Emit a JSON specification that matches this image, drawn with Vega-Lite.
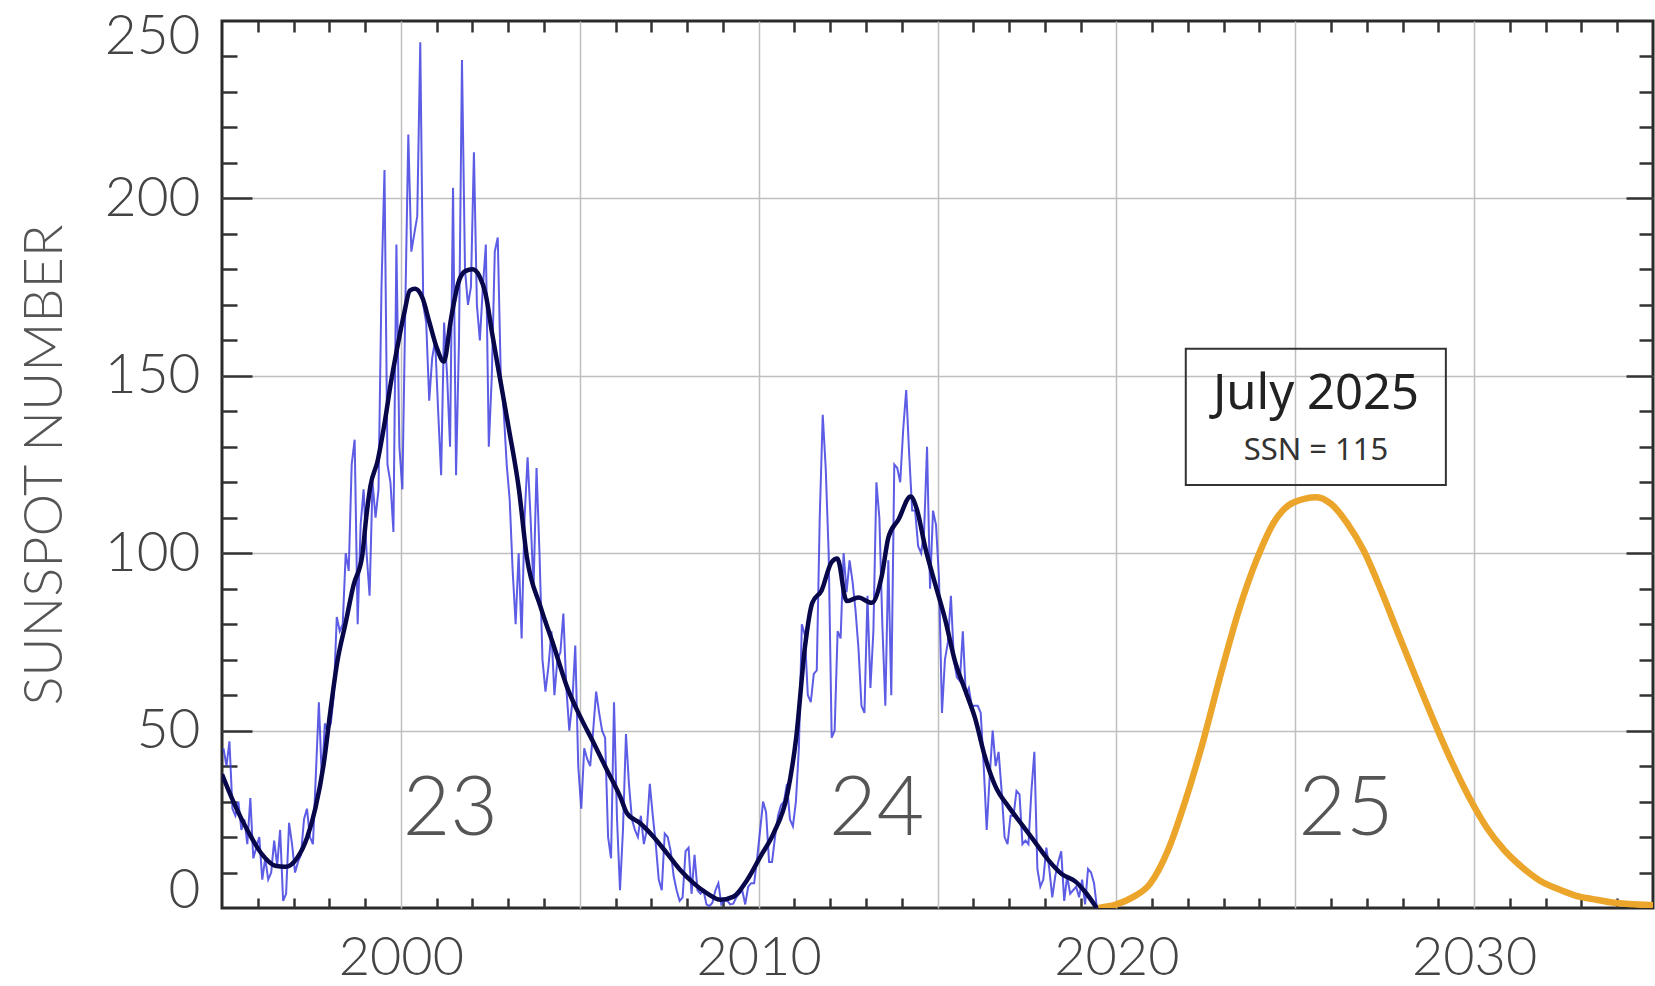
{
  "$schema": "https://vega.github.io/schema/vega-lite/v6.json",
  "width": 1431,
  "height": 887,
  "autosize": {"type": "none"},
  "padding": {"left": 222, "top": 21, "right": 2, "bottom": 78},
  "background": "white",
  "config": {
    "view": {"stroke": "#2a2a2a", "strokeWidth": 3},
    "axis": {"tickColor": "#333333", "tickWidth": 2.5, "domain": false, "titleColor": "#555555", "labelColor": "#444444"}
  },
  "datasets": {
    "monthly": [
      {"t":1995.042,"ssn":45},{"t":1995.125,"ssn":40},{"t":1995.208,"ssn":47},{"t":1995.292,"ssn":28},{"t":1995.375,"ssn":26},{"t":1995.458,"ssn":30},{"t":1995.542,"ssn":22},{"t":1995.625,"ssn":25},{"t":1995.708,"ssn":18},{"t":1995.792,"ssn":31},{"t":1995.875,"ssn":14},{"t":1995.958,"ssn":17},
      {"t":1996.042,"ssn":20},{"t":1996.125,"ssn":8},{"t":1996.208,"ssn":14},{"t":1996.292,"ssn":8},{"t":1996.375,"ssn":10},{"t":1996.458,"ssn":19},{"t":1996.542,"ssn":12},{"t":1996.625,"ssn":22},{"t":1996.708,"ssn":2},{"t":1996.792,"ssn":4},{"t":1996.875,"ssn":24},{"t":1996.958,"ssn":18},
      {"t":1997.042,"ssn":10},{"t":1997.125,"ssn":13},{"t":1997.208,"ssn":15},{"t":1997.292,"ssn":25},{"t":1997.375,"ssn":28},{"t":1997.458,"ssn":20},{"t":1997.542,"ssn":18},{"t":1997.625,"ssn":38},{"t":1997.708,"ssn":58},{"t":1997.792,"ssn":36},{"t":1997.875,"ssn":52},{"t":1997.958,"ssn":50},
      {"t":1998.042,"ssn":52},{"t":1998.125,"ssn":60},{"t":1998.208,"ssn":82},{"t":1998.292,"ssn":78},{"t":1998.375,"ssn":80},{"t":1998.458,"ssn":100},{"t":1998.542,"ssn":95},{"t":1998.625,"ssn":125},{"t":1998.708,"ssn":132},{"t":1998.792,"ssn":80},{"t":1998.875,"ssn":108},{"t":1998.958,"ssn":118},
      {"t":1999.042,"ssn":100},{"t":1999.125,"ssn":88},{"t":1999.208,"ssn":120},{"t":1999.292,"ssn":110},{"t":1999.375,"ssn":118},{"t":1999.458,"ssn":175},{"t":1999.542,"ssn":208},{"t":1999.625,"ssn":125},{"t":1999.708,"ssn":120},{"t":1999.792,"ssn":106},{"t":1999.875,"ssn":187},{"t":1999.958,"ssn":130},
      {"t":2000.042,"ssn":118},{"t":2000.125,"ssn":170},{"t":2000.208,"ssn":218},{"t":2000.292,"ssn":185},{"t":2000.375,"ssn":190},{"t":2000.458,"ssn":195},{"t":2000.542,"ssn":244},{"t":2000.625,"ssn":170},{"t":2000.708,"ssn":165},{"t":2000.792,"ssn":143},{"t":2000.875,"ssn":155},{"t":2000.958,"ssn":160},
      {"t":2001.042,"ssn":140},{"t":2001.125,"ssn":122},{"t":2001.208,"ssn":165},{"t":2001.292,"ssn":150},{"t":2001.375,"ssn":130},{"t":2001.458,"ssn":203},{"t":2001.542,"ssn":122},{"t":2001.625,"ssn":160},{"t":2001.708,"ssn":239},{"t":2001.792,"ssn":180},{"t":2001.875,"ssn":170},{"t":2001.958,"ssn":175},
      {"t":2002.042,"ssn":213},{"t":2002.125,"ssn":170},{"t":2002.208,"ssn":160},{"t":2002.292,"ssn":175},{"t":2002.375,"ssn":187},{"t":2002.458,"ssn":130},{"t":2002.542,"ssn":150},{"t":2002.625,"ssn":185},{"t":2002.708,"ssn":189},{"t":2002.792,"ssn":150},{"t":2002.875,"ssn":140},{"t":2002.958,"ssn":125},
      {"t":2003.042,"ssn":115},{"t":2003.125,"ssn":95},{"t":2003.208,"ssn":80},{"t":2003.292,"ssn":100},{"t":2003.375,"ssn":76},{"t":2003.458,"ssn":110},{"t":2003.542,"ssn":127},{"t":2003.625,"ssn":110},{"t":2003.708,"ssn":90},{"t":2003.792,"ssn":124},{"t":2003.875,"ssn":100},{"t":2003.958,"ssn":70},
      {"t":2004.042,"ssn":61},{"t":2004.125,"ssn":68},{"t":2004.208,"ssn":78},{"t":2004.292,"ssn":60},{"t":2004.375,"ssn":70},{"t":2004.458,"ssn":72},{"t":2004.542,"ssn":83},{"t":2004.625,"ssn":62},{"t":2004.708,"ssn":50},{"t":2004.792,"ssn":58},{"t":2004.875,"ssn":74},{"t":2004.958,"ssn":40},
      {"t":2005.042,"ssn":28},{"t":2005.125,"ssn":45},{"t":2005.208,"ssn":42},{"t":2005.292,"ssn":40},{"t":2005.375,"ssn":50},{"t":2005.458,"ssn":61},{"t":2005.542,"ssn":55},{"t":2005.625,"ssn":50},{"t":2005.708,"ssn":48},{"t":2005.792,"ssn":20},{"t":2005.875,"ssn":14},{"t":2005.958,"ssn":58},
      {"t":2006.042,"ssn":25},{"t":2006.125,"ssn":5},{"t":2006.208,"ssn":22},{"t":2006.292,"ssn":49},{"t":2006.375,"ssn":35},{"t":2006.458,"ssn":25},{"t":2006.542,"ssn":22},{"t":2006.625,"ssn":20},{"t":2006.708,"ssn":26},{"t":2006.792,"ssn":18},{"t":2006.875,"ssn":22},{"t":2006.958,"ssn":35},
      {"t":2007.042,"ssn":26},{"t":2007.125,"ssn":18},{"t":2007.208,"ssn":8},{"t":2007.292,"ssn":5},{"t":2007.375,"ssn":21},{"t":2007.458,"ssn":20},{"t":2007.542,"ssn":16},{"t":2007.625,"ssn":9},{"t":2007.708,"ssn":5},{"t":2007.792,"ssn":2},{"t":2007.875,"ssn":3},{"t":2007.958,"ssn":16},
      {"t":2008.042,"ssn":17},{"t":2008.125,"ssn":4},{"t":2008.208,"ssn":15},{"t":2008.292,"ssn":5},{"t":2008.375,"ssn":4},{"t":2008.458,"ssn":5},{"t":2008.542,"ssn":1},{"t":2008.625,"ssn":0.5},{"t":2008.708,"ssn":1.5},{"t":2008.792,"ssn":5},{"t":2008.875,"ssn":7},{"t":2008.958,"ssn":1},
      {"t":2009.042,"ssn":2},{"t":2009.125,"ssn":2},{"t":2009.208,"ssn":1},{"t":2009.292,"ssn":1.2},{"t":2009.375,"ssn":3},{"t":2009.458,"ssn":4},{"t":2009.542,"ssn":5},{"t":2009.625,"ssn":1},{"t":2009.708,"ssn":6},{"t":2009.792,"ssn":7},{"t":2009.875,"ssn":7},{"t":2009.958,"ssn":14},
      {"t":2010.042,"ssn":22},{"t":2010.125,"ssn":30},{"t":2010.208,"ssn":27},{"t":2010.292,"ssn":13},{"t":2010.375,"ssn":13},{"t":2010.458,"ssn":20},{"t":2010.542,"ssn":26},{"t":2010.625,"ssn":29},{"t":2010.708,"ssn":30},{"t":2010.792,"ssn":35},{"t":2010.875,"ssn":25},{"t":2010.958,"ssn":23},
      {"t":2011.042,"ssn":30},{"t":2011.125,"ssn":45},{"t":2011.208,"ssn":80},{"t":2011.292,"ssn":77},{"t":2011.375,"ssn":60},{"t":2011.458,"ssn":58},{"t":2011.542,"ssn":66},{"t":2011.625,"ssn":67},{"t":2011.708,"ssn":110},{"t":2011.792,"ssn":139},{"t":2011.875,"ssn":124},{"t":2011.958,"ssn":100},
      {"t":2012.042,"ssn":48},{"t":2012.125,"ssn":50},{"t":2012.208,"ssn":78},{"t":2012.292,"ssn":76},{"t":2012.375,"ssn":100},{"t":2012.458,"ssn":89},{"t":2012.542,"ssn":98},{"t":2012.625,"ssn":92},{"t":2012.708,"ssn":84},{"t":2012.792,"ssn":73},{"t":2012.875,"ssn":57},{"t":2012.958,"ssn":55},
      {"t":2013.042,"ssn":88},{"t":2013.125,"ssn":62},{"t":2013.208,"ssn":78},{"t":2013.292,"ssn":120},{"t":2013.375,"ssn":110},{"t":2013.458,"ssn":80},{"t":2013.542,"ssn":57},{"t":2013.625,"ssn":98},{"t":2013.708,"ssn":60},{"t":2013.792,"ssn":125},{"t":2013.875,"ssn":124},{"t":2013.958,"ssn":120},
      {"t":2014.042,"ssn":135},{"t":2014.125,"ssn":146},{"t":2014.208,"ssn":128},{"t":2014.292,"ssn":112},{"t":2014.375,"ssn":112},{"t":2014.458,"ssn":102},{"t":2014.542,"ssn":100},{"t":2014.625,"ssn":106},{"t":2014.708,"ssn":130},{"t":2014.792,"ssn":90},{"t":2014.875,"ssn":112},{"t":2014.958,"ssn":108},
      {"t":2015.042,"ssn":93},{"t":2015.125,"ssn":55},{"t":2015.208,"ssn":70},{"t":2015.292,"ssn":75},{"t":2015.375,"ssn":88},{"t":2015.458,"ssn":70},{"t":2015.542,"ssn":65},{"t":2015.625,"ssn":64},{"t":2015.708,"ssn":78},{"t":2015.792,"ssn":60},{"t":2015.875,"ssn":62},{"t":2015.958,"ssn":57},
      {"t":2016.042,"ssn":57},{"t":2016.125,"ssn":57},{"t":2016.208,"ssn":55},{"t":2016.292,"ssn":40},{"t":2016.375,"ssn":22},{"t":2016.458,"ssn":37},{"t":2016.542,"ssn":50},{"t":2016.625,"ssn":40},{"t":2016.708,"ssn":44},{"t":2016.792,"ssn":33},{"t":2016.875,"ssn":20},{"t":2016.958,"ssn":18},
      {"t":2017.042,"ssn":26},{"t":2017.125,"ssn":26},{"t":2017.208,"ssn":33},{"t":2017.292,"ssn":32},{"t":2017.375,"ssn":18},{"t":2017.458,"ssn":19},{"t":2017.542,"ssn":18},{"t":2017.625,"ssn":33},{"t":2017.708,"ssn":44},{"t":2017.792,"ssn":11},{"t":2017.875,"ssn":6},{"t":2017.958,"ssn":8},
      {"t":2018.042,"ssn":17},{"t":2018.125,"ssn":11},{"t":2018.208,"ssn":3},{"t":2018.292,"ssn":9},{"t":2018.375,"ssn":13},{"t":2018.458,"ssn":16},{"t":2018.542,"ssn":2},{"t":2018.625,"ssn":9},{"t":2018.708,"ssn":4},{"t":2018.792,"ssn":5},{"t":2018.875,"ssn":6},{"t":2018.958,"ssn":3},
      {"t":2019.042,"ssn":8},{"t":2019.125,"ssn":1},{"t":2019.208,"ssn":11},{"t":2019.292,"ssn":10},{"t":2019.375,"ssn":7},{"t":2019.458,"ssn":0}
    ],
    "smoothed": [
      {"t":1995.0,"v":37.7},{"t":1995.37,"v":28.8},{"t":1995.75,"v":21.2},{"t":1996.12,"v":15.1},{"t":1996.49,"v":11.9},{"t":1996.77,"v":11.6},{"t":1997.1,"v":14.1},{"t":1997.38,"v":19.9},{"t":1997.61,"v":28.1},{"t":1997.84,"v":40.4},{"t":1998.03,"v":55.5},{"t":1998.22,"v":69.2},{"t":1998.45,"v":80.1},{"t":1998.68,"v":91.1},{"t":1998.92,"v":99.3},{"t":1999.03,"v":110},{"t":1999.15,"v":119},{"t":1999.35,"v":126},{"t":1999.55,"v":137},{"t":1999.72,"v":148},{"t":1999.9,"v":158},{"t":2000.1,"v":168},{"t":2000.25,"v":174},{"t":2000.4,"v":174.5},{"t":2000.6,"v":172},{"t":2000.8,"v":165},{"t":2001.0,"v":158},{"t":2001.2,"v":154},{"t":2001.4,"v":166},{"t":2001.6,"v":176},{"t":2001.8,"v":179.5},{"t":2002.0,"v":180},{"t":2002.2,"v":178},{"t":2002.37,"v":173},{"t":2002.55,"v":162},{"t":2002.74,"v":151},{"t":2003.02,"v":135},{"t":2003.3,"v":118},{"t":2003.52,"v":99},{"t":2003.9,"v":85},{"t":2004.27,"v":74},{"t":2004.64,"v":62.4},{"t":2005.01,"v":54},{"t":2005.39,"v":46.5},{"t":2005.76,"v":38.9},{"t":2006.13,"v":31.4},{"t":2006.32,"v":26.7},{"t":2006.69,"v":23.9},{"t":2007.06,"v":20.1},{"t":2007.44,"v":15.4},{"t":2007.81,"v":10.7},{"t":2008.18,"v":7},{"t":2008.56,"v":4.1},{"t":2008.93,"v":2.3},{"t":2009.3,"v":3.2},{"t":2009.68,"v":7.9},{"t":2010.05,"v":14.5},{"t":2010.42,"v":21.1},{"t":2010.8,"v":32},{"t":2011.05,"v":48},{"t":2011.3,"v":74},{"t":2011.5,"v":86},{"t":2011.76,"v":89.5},{"t":2012.04,"v":97.5},{"t":2012.2,"v":98.5},{"t":2012.46,"v":86.5},{"t":2012.79,"v":87.5},{"t":2013.16,"v":86},{"t":2013.44,"v":93.5},{"t":2013.63,"v":104.5},{"t":2013.91,"v":109.5},{"t":2014.25,"v":116},{"t":2014.42,"v":112.5},{"t":2014.66,"v":101.5},{"t":2014.93,"v":91.5},{"t":2015.21,"v":81.5},{"t":2015.49,"v":69.5},{"t":2015.77,"v":61.5},{"t":2016.05,"v":53.5},{"t":2016.33,"v":42.5},{"t":2016.61,"v":34.5},{"t":2016.99,"v":28.5},{"t":2017.36,"v":23.5},{"t":2017.73,"v":18.5},{"t":2018.1,"v":13.5},{"t":2018.48,"v":9.5},{"t":2018.85,"v":7.5},{"t":2019.13,"v":4.5},{"t":2019.45,"v":0}
    ],
    "predicted": [
      {"t":2019.5,"v":0},{"t":2020.0,"v":1},{"t":2020.45,"v":3},{"t":2020.94,"v":6.8},{"t":2021.44,"v":16.2},{"t":2021.93,"v":30.3},{"t":2022.43,"v":47.2},{"t":2022.92,"v":66},{"t":2023.42,"v":83.8},{"t":2023.91,"v":97.9},{"t":2024.41,"v":108.8},{"t":2024.95,"v":114.3},{"t":2025.6,"v":115.8},{"t":2026.0,"v":113.9},{"t":2026.45,"v":108.5},{"t":2026.92,"v":100.6},{"t":2027.4,"v":89.5},{"t":2027.88,"v":77.3},{"t":2028.37,"v":65},{"t":2028.87,"v":52.8},{"t":2029.36,"v":41.5},{"t":2029.86,"v":31.2},{"t":2030.35,"v":22.7},{"t":2030.85,"v":16.2},{"t":2031.34,"v":11.5},{"t":2031.84,"v":7.7},{"t":2032.33,"v":5.4},{"t":2032.83,"v":3.5},{"t":2033.32,"v":2.5},{"t":2033.82,"v":1.6},{"t":2034.31,"v":1.1},{"t":2035.0,"v":0.8}
    ],
    "box": [{"x1":2021.94,"x2":2029.21,"y1":119.2,"y2":157.6}],
    "cycles": [{"t":2001.38,"v":27.7,"label":"23"},{"t":2013.3,"v":27.7,"label":"24"},{"t":2026.42,"v":27.7,"label":"25"}],
    "note1": [{"t":2025.58,"v":145,"label":"July 2025"}],
    "note2": [{"t":2025.58,"v":128.8,"label":"SSN = 115"}]
  },
  "layer": [
    {
      "data": {"name": "box"},
      "mark": {"type": "rect", "filled": false, "stroke": "#333333", "strokeWidth": 2},
      "encoding": {
        "x": {"field": "x1", "type": "quantitative", "scale": {"domain": [1995, 2035], "nice": false, "zero": false},
          "axis": {"orient": "bottom", "values": [2000, 2005, 2010, 2015, 2020, 2025, 2030], "grid": true, "gridColor": "#bfbfbf", "gridWidth": 1.5, "ticks": false, "labels": false, "domain": false, "title": null}},
        "x2": {"field": "x2"},
        "y": {"field": "y1", "type": "quantitative", "scale": {"domain": [0, 250], "nice": false, "zero": false},
          "axis": {"orient": "left", "values": [50, 100, 150, 200], "grid": true, "gridColor": "#bfbfbf", "gridWidth": 1.5, "ticks": false, "labels": false, "domain": false, "title": null}},
        "y2": {"field": "y2"}
      }
    },
    {
      "data": {"name": "monthly"},
      "mark": {"type": "line", "color": "#4040e0", "strokeWidth": 2, "opacity": 0.85, "clip": true},
      "encoding": {
        "x": {"field": "t", "type": "quantitative", "scale": {"domain": [1995, 2035], "nice": false, "zero": false},
          "axis": {"orient": "bottom", "values": [2000, 2010, 2020, 2030], "format": "d", "ticks": false, "grid": false, "domain": false, "labelFont": "Lato", "labelFontWeight": 300, "labelFontSize": 54, "labelPadding": 23, "title": null}},
        "y": {"field": "ssn", "type": "quantitative", "scale": {"domain": [0, 250], "nice": false, "zero": false},
          "axis": {"orient": "left", "values": [0, 50, 100, 150, 200, 250], "ticks": false, "grid": false, "domain": false, "labelFlush": true, "labelFlushOffset": 11, "labelFont": "Lato", "labelFontWeight": 300, "labelFontSize": 55, "labelPadding": 22,
            "title": "SUNSPOT NUMBER", "titleFont": "Lato", "titleFontWeight": 300, "titleFontSize": 54, "titlePadding": 32}}
      }
    },
    {
      "data": {"name": "smoothed"},
      "mark": {"type": "line", "color": "#07074a", "strokeWidth": 4.5, "interpolate": "monotone", "clip": true},
      "encoding": {
        "x": {"field": "t", "type": "quantitative", "scale": {"domain": [1995, 2035], "nice": false, "zero": false},
          "axis": {"orient": "bottom", "values": [1996,1997,1998,1999,2001,2002,2003,2004,2006,2007,2008,2009,2011,2012,2013,2014,2016,2017,2018,2019,2021,2022,2023,2024,2026,2027,2028,2029,2031,2032,2033,2034], "labels": false, "grid": false, "domain": false, "tickSize": -10, "title": null}},
        "y": {"field": "v", "type": "quantitative", "scale": {"domain": [0, 250], "nice": false, "zero": false},
          "axis": {"orient": "left", "values": [10,20,30,40,60,70,80,90,110,120,130,140,160,170,180,190,210,220,230,240], "labels": false, "grid": false, "domain": false, "tickSize": -15, "title": null}}
      }
    },
    {
      "data": {"name": "predicted"},
      "mark": {"type": "line", "color": "#eba52b", "strokeWidth": 6.5, "interpolate": "monotone", "clip": true},
      "encoding": {
        "x": {"field": "t", "type": "quantitative", "scale": {"domain": [1995, 2035], "nice": false, "zero": false},
          "axis": {"orient": "top", "values": [1996,1997,1998,1999,2001,2002,2003,2004,2006,2007,2008,2009,2011,2012,2013,2014,2016,2017,2018,2019,2021,2022,2023,2024,2026,2027,2028,2029,2031,2032,2033,2034], "labels": false, "grid": false, "domain": false, "tickSize": -11, "title": null}},
        "y": {"field": "v", "type": "quantitative", "scale": {"domain": [0, 250], "nice": false, "zero": false},
          "axis": {"orient": "right", "values": [10,20,30,40,60,70,80,90,110,120,130,140,160,170,180,190,210,220,230,240], "labels": false, "grid": false, "domain": false, "tickSize": -14, "title": null}}
      }
    },
    {
      "data": {"name": "cycles"},
      "mark": {"type": "text", "font": "Lato", "fontWeight": 300, "fontSize": 82, "color": "#555555", "align": "center", "baseline": "middle"},
      "encoding": {
        "x": {"field": "t", "type": "quantitative", "scale": {"domain": [1995, 2035], "nice": false, "zero": false}, "axis": null},
        "y": {"field": "v", "type": "quantitative", "scale": {"domain": [0, 250], "nice": false, "zero": false},
          "axis": {"orient": "left", "values": [50, 100, 150, 200], "labels": false, "grid": false, "domain": false, "tickSize": -30, "title": null}},
        "text": {"field": "label"}
      }
    },
    {
      "data": {"name": "note1"},
      "mark": {"type": "text", "font": "Noto Sans", "fontSize": 49, "color": "#222222", "align": "center", "baseline": "middle"},
      "encoding": {
        "x": {"field": "t", "type": "quantitative", "scale": {"domain": [1995, 2035], "nice": false, "zero": false}, "axis": null},
        "y": {"field": "v", "type": "quantitative", "scale": {"domain": [0, 250], "nice": false, "zero": false},
          "axis": {"orient": "right", "values": [50, 100, 150, 200], "labels": false, "grid": false, "domain": false, "tickSize": -27, "title": null}},
        "text": {"field": "label"}
      }
    },
    {
      "data": {"name": "note2"},
      "mark": {"type": "text", "font": "Noto Sans", "fontSize": 31, "color": "#333333", "align": "center", "baseline": "middle"},
      "encoding": {
        "x": {"field": "t", "type": "quantitative", "scale": {"domain": [1995, 2035], "nice": false, "zero": false}, "axis": null},
        "y": {"field": "v", "type": "quantitative", "scale": {"domain": [0, 250], "nice": false, "zero": false}, "axis": null},
        "text": {"field": "label"}
      }
    }
  ],
  "resolve": {"axis": {"x": "independent", "y": "independent"}}
}
